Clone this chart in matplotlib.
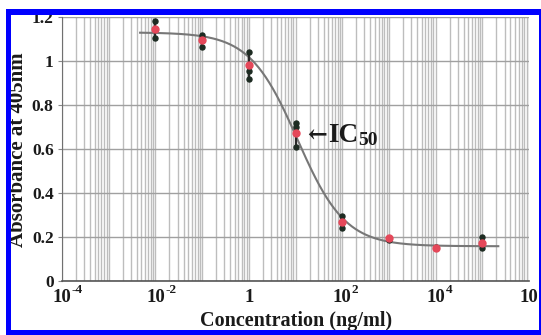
import numpy as np
import matplotlib
matplotlib.use("Agg")
import matplotlib.pyplot as plt
from matplotlib.patches import Rectangle
from matplotlib.ticker import LogLocator, NullFormatter, FixedLocator

# ---- data ----
conc = [1e-2, 1e-1, 1, 10, 100, 1e3, 1e4, 1e5]
mean_abs = [1.147, 1.095, 0.98, 0.675, 0.268, 0.195, 0.152, 0.175]
rep_high = [1.18, 1.12, 1.04, 0.72, 0.295, 0.19, 0.155, 0.20]
rep_mid = [np.nan, 1.105, 0.955, 0.70, np.nan, np.nan, np.nan, np.nan]
rep_low = [1.106, 1.064, 0.92, 0.61, 0.24, 0.186, 0.15, 0.152]

# 4-parameter logistic fit shown in the chart
fit_top = 1.13
fit_bottom = 0.158
fit_ic50 = 11.0
fit_hill = 0.85
fit_range = (0.0047, 2.2e5)

x_tick_exps = [-4, -2, 0, 2, 4, 6]
y_ticks = [0, 0.2, 0.4, 0.6, 0.8, 1.0, 1.2]
y_tick_labels = ["0", "0.2", "0.4", "0.6", "0.8", "1", "1.2"]

SERIF = ["Liberation Serif", "DejaVu Serif"]

W, H = 541, 335
fig = plt.figure(figsize=(W / 100, H / 100), dpi=100)
fig.patch.set_facecolor("white")
ax = fig.add_axes([62 / W, 54 / H, 467 / W, 264 / H])

ax.set_xscale("log")
ax.set_xlim(1e-4, 1e6)
ax.set_ylim(0, 1.2)

# grid
ax.xaxis.set_major_locator(LogLocator(base=10, numticks=20))
ax.xaxis.set_minor_locator(LogLocator(base=10, subs=np.arange(2, 10), numticks=100))
ax.xaxis.set_minor_formatter(NullFormatter())
ax.grid(True, which="both", axis="x", color="#bdbdbd", lw=1.0)
ax.yaxis.set_major_locator(FixedLocator(y_ticks))
ax.grid(True, which="major", axis="y", color="#a0a0a0", lw=1.0)
ax.set_axisbelow(True)

for s in ["top", "right"]:
    ax.spines[s].set_visible(False)
ax.spines["left"].set_color("#707070")
ax.spines["bottom"].set_color("#555555")
ax.spines["bottom"].set_linewidth(1.2)

ax.set_yticks(y_ticks)
ax.set_yticklabels(y_tick_labels)
ax.tick_params(axis="y", length=3, color="#888888", pad=3, labelsize=12.5)
for lab in ax.get_yticklabels():
    lab.set_family(SERIF)
    lab.set_fontweight("bold")
    lab.set_color("#1a1a1a")

ax.tick_params(axis="x", which="both", length=0, labelbottom=False)

# x tick labels: "10" centred on the tick, exponent hanging to the right
xtr = ax.get_xaxis_transform()
for e in x_tick_exps:
    xv = 10.0 ** e
    if e == 0:
        ax.text(xv, -0.0795, "1", transform=xtr, ha="center", va="baseline",
                fontsize=13.5, fontweight="bold", family=SERIF, color="#1a1a1a",
                clip_on=False)
    else:
        t = ax.text(xv, -0.0795, "10", transform=xtr, ha="center", va="baseline",
                    fontsize=13.5, fontweight="bold", family=SERIF, color="#1a1a1a",
                    clip_on=False)
        ax.annotate(str(e), xy=(1, 0), xycoords=t, xytext=(0.3, 9.5),
                    textcoords="offset points", ha="left", va="baseline",
                    fontsize=9.5, fontweight="bold", family=SERIF, color="#1a1a1a",
                    annotation_clip=False)

# fitted curve
xf = np.logspace(np.log10(fit_range[0]), np.log10(fit_range[1]), 400)
yf = fit_bottom + (fit_top - fit_bottom) / (1 + (xf / fit_ic50) ** fit_hill)
ax.plot(xf, yf, color="#777777", lw=1.5, zorder=3)

# replicate spread, replicates and means
ax.vlines(conc, rep_low, rep_high, color="#2a2a2a", lw=1.6, zorder=4)
ax.plot(conc, rep_high, "o", ms=3.6, color="#1d2b22", zorder=5, ls="none")
ax.plot(conc, rep_mid, "o", ms=3.6, color="#1d2b22", zorder=5, ls="none")
ax.plot(conc, rep_low, "o", ms=3.6, color="#1d2b22", zorder=5, ls="none")
ax.plot(conc, mean_abs, "o", ms=5, color="#e5485a", zorder=6, ls="none")

# IC50 annotation
ic_x, ic_y = 49.0, 0.63
t_ic = ax.text(ic_x, ic_y, "IC", ha="left", va="baseline", fontsize=19.5,
               fontweight="bold", family=SERIF, color="#1a1a1a", zorder=7)
ax.annotate("\u2190", xy=(ic_x, ic_y), xycoords="data", xytext=(-0.5, 0.5),
            textcoords="offset points", ha="right", va="baseline", fontsize=17,
            fontweight="bold", family=["DejaVu Serif"], color="#1a1a1a", zorder=7)
ax.annotate("50", xy=(1, 0), xycoords=t_ic, xytext=(0.5, 2.5),
            textcoords="offset points", ha="left", va="baseline", fontsize=14,
            fontweight="bold", family=SERIF, color="#1a1a1a")

# axis labels
fig.text(18 / W, 1 - 150 / H, "Absorbance at 405nm", rotation=90, ha="center",
         va="center", fontsize=15, fontweight="bold", family=SERIF, color="#1a1a1a")
fig.text(296 / W, (H - 326) / H, "Concentration (ng/ml)", ha="center",
         va="baseline", fontsize=14.5, fontweight="bold", family=SERIF, color="#1a1a1a")

# blue frame
blue = "#0000ff"
for (x0, y0, x1, y1) in [(6, 9, 11, 335), (6, 9, 541, 15), (539, 9, 541, 335), (6, 330, 541, 335)]:
    fig.add_artist(Rectangle((x0 / W, 1 - y1 / H), (x1 - x0) / W, (y1 - y0) / H,
                             transform=fig.transFigure, facecolor=blue,
                             edgecolor="none", zorder=10))

fig.savefig("out.png", dpi=100)
